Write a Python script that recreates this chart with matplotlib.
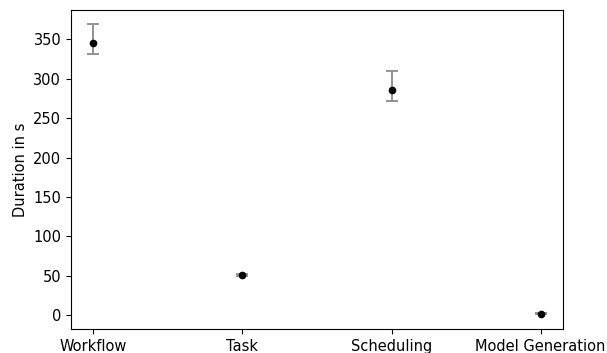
import matplotlib
matplotlib.use("Agg")
import matplotlib.pyplot as plt
import numpy as np

categories = ["Workflow", "Task", "Scheduling", "Model Generation"]
mean_duration = [345, 51, 285.5, 2]
low_duration = [331, 49.5, 272, 1]
high_duration = [369, 52.5, 309.5, 3]

plt.rcParams["font.size"] = 10.5

fig = plt.figure(figsize=(6.07, 3.53), dpi=100)
ax = fig.add_axes([0.117, 0.068, 0.8105, 0.904])

x = np.arange(len(categories))
yerr = [np.subtract(mean_duration, low_duration),
        np.subtract(high_duration, mean_duration)]
ax.errorbar(x, mean_duration, yerr=yerr, fmt="o", color="black",
            markersize=4.5, ecolor="#8a8a8a", elinewidth=1.3, capsize=4,
            capthick=1.3, zorder=3)

ax.set_xticks(x)
ax.set_xticklabels(categories)
ax.set_ylabel("Duration in s")

fig.savefig("out.png", dpi=100)
